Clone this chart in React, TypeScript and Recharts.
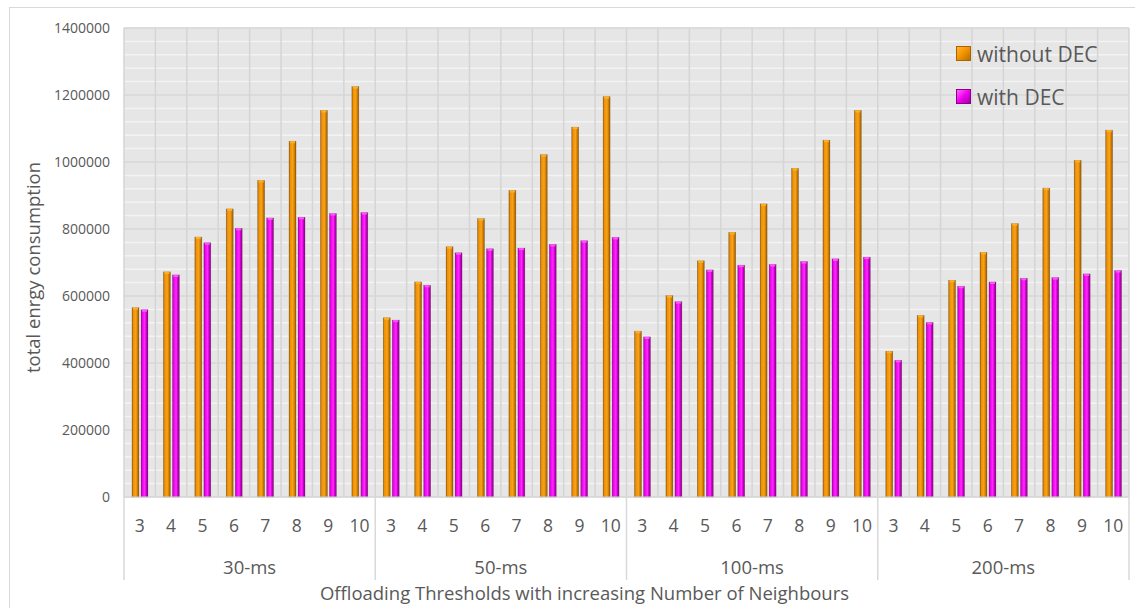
import React from 'react'
import {
  BarChart,
  Bar,
  XAxis,
  YAxis,
  CartesianGrid,
  Legend,
} from 'recharts'

const groups = ['30-ms', '50-ms', '100-ms', '200-ms']
const neighbours = [3, 4, 5, 6, 7, 8, 9, 10]

// total energy, one value per (threshold, neighbours) pair
const withoutDEC = [
  565000, 672000, 776000, 860000, 945000, 1062000, 1154000, 1225000,
  535000, 642000, 747000, 831000, 915000, 1022000, 1104000, 1195000,
  495000, 601000, 705000, 790000, 875000, 981000, 1065000, 1154000,
  435000, 542000, 647000, 730000, 816000, 922000, 1005000, 1095000,
]
const withDEC = [
  559000, 663000, 759000, 802000, 833000, 835000, 846000, 849000,
  528000, 632000, 729000, 741000, 743000, 754000, 765000, 775000,
  478000, 583000, 678000, 692000, 694000, 703000, 711000, 716000,
  408000, 521000, 629000, 642000, 653000, 655000, 666000, 676000,
]

const yTicks = [0, 200000, 400000, 600000, 800000, 1000000, 1200000, 1400000]
const minorTicks = Array.from({ length: 35 }, (_, i) => (i + 1) * 40000)

const data = groups.flatMap((group, gi) =>
  neighbours.map((n, ni) => ({
    key: `${group}-${n}`,
    n,
    group,
    without: withoutDEC[gi * 8 + ni],
    with: withDEC[gi * 8 + ni],
  }))
)

const FONT = '"Open Sans", "Noto Sans", sans-serif'
const TEXT = '#595959'

const NeighbourTick = (props: any) => {
  const { x, y, index, payload } = props
  const band = (payload?.offset ?? 15.7) * 2
  const row = data[index]
  const first = index % neighbours.length === 0
  const last = index === data.length - 1
  return (
    <g>
      <text x={x} y={y + 35} textAnchor="middle" fontSize={17.5} fill={TEXT} fontFamily={FONT}>
        {row ? row.n : ''}
      </text>
      {first && (
        <>
          <line x1={x - band / 2} x2={x - band / 2} y1={y} y2={y + 83} stroke="#d9d9d9" strokeWidth={1.5} />
          <text
            x={x - band / 2 + band * 4}
            y={y + 77}
            textAnchor="middle"
            fontSize={18.5}
            fill={TEXT}
            fontFamily={FONT}
          >
            {row.group}
          </text>
        </>
      )}
      {last && (
        <line x1={x + band / 2} x2={x + band / 2} y1={y} y2={y + 83} stroke="#d9d9d9" strokeWidth={1.5} />
      )}
    </g>
  )
}

const CylinderBar = (props: any) => {
  const { x, y, width, height, fill, cap } = props
  if (!height || height <= 0) return null
  return (
    <g>
      <rect x={x} y={y} width={width} height={height} fill={fill} stroke="rgba(80,60,40,0.35)" strokeWidth={0.6} />
      <rect x={x + 1} y={y} width={width - 2} height={2} fill={cap} />
    </g>
  )
}

const legendItems = [
  { label: 'without DEC', bg: 'linear-gradient(135deg, #ffb732 0%, #f39200 50%, #b86e00 100%)', border: '#a86400' },
  { label: 'with DEC', bg: 'linear-gradient(135deg, #ff66ff 0%, #ee00ee 50%, #a000a0 100%)', border: '#8a008a' },
]

const renderLegend = () => (
  <div style={{ fontFamily: FONT }}>
    {legendItems.map((it) => (
      <div key={it.label} style={{ display: 'flex', alignItems: 'center', height: 43 }}>
        <span
          style={{
            display: 'inline-block',
            width: 13,
            height: 13,
            background: it.bg,
            border: `1px solid ${it.border}`,
            marginRight: 6,
          }}
        />
        <span style={{ fontSize: 21, color: TEXT }}>{it.label}</span>
      </div>
    ))}
  </div>
)

const YTitle = (props: any) => {
  const { viewBox } = props
  const cx = 32
  const cy = viewBox.y + viewBox.height / 2 + 5
  return (
    <text
      x={cx}
      y={cy}
      transform={`rotate(-90, ${cx}, ${cy})`}
      textAnchor="middle"
      dominantBaseline="central"
      fontSize={18.5}
      fill={TEXT}
      fontFamily={FONT}
    >
      total enrgy consumption
    </text>
  )
}

const App: React.FC = () => {
  return (
    <div style={{ position: 'absolute', left: 0, top: 0, width: 1135, height: 608, background: '#fff', overflow: 'hidden' }}>
      <div
        style={{
          position: 'absolute',
          left: 9,
          top: 7,
          width: 1140,
          height: 620,
          borderLeft: '1px solid #d9d9d9',
          borderTop: '1px solid #d9d9d9',
        }}
      />
      <BarChart
        width={1135}
        height={608}
        data={data}
        margin={{ top: 28, right: 6, left: 0, bottom: 0 }}
        barSize={7}
        barGap={2}
        style={{ position: 'absolute', left: 0, top: 0 }}
      >
        <defs>
          <linearGradient id="orangeBar" x1="0" y1="0" x2="1" y2="0">
            <stop offset="0%" stopColor="#9c5a00" />
            <stop offset="18%" stopColor="#f09000" />
            <stop offset="55%" stopColor="#f7a21c" />
            <stop offset="75%" stopColor="#d88200" />
            <stop offset="100%" stopColor="#955600" />
          </linearGradient>
          <linearGradient id="magentaBar" x1="0" y1="0" x2="1" y2="0">
            <stop offset="0%" stopColor="#990099" />
            <stop offset="18%" stopColor="#ee00ee" />
            <stop offset="55%" stopColor="#ff2aff" />
            <stop offset="75%" stopColor="#cc00cc" />
            <stop offset="100%" stopColor="#850085" />
          </linearGradient>
        </defs>
        <CartesianGrid
          fill="#e6e6e6"
          fillOpacity={1}
          stroke="#f3f3f3"
          strokeWidth={1.5}
          horizontalValues={minorTicks}
          vertical={false}
        />
        <CartesianGrid
          stroke="#d5d5d5"
          strokeWidth={1.5}
          horizontalValues={yTicks}
          verticalCoordinatesGenerator={({ offset }: any) =>
            Array.from({ length: data.length + 1 }, (_, i) => offset.left + (i * offset.width) / data.length)
          }
        />
        <XAxis
          dataKey="key"
          interval={0}
          tickLine={false}
          tickSize={0}
          tickMargin={0}
          height={111}
          axisLine={{ stroke: '#d9d9d9' }}
          tick={<NeighbourTick />}
          label={{
            value: 'Offloading Thresholds with increasing Number of Neighbours',
            position: 'insideBottom',
            dx: -42,
            offset: 8,
            fontSize: 18.5,
            fill: TEXT,
            fontFamily: FONT,
          }}
        />
        <YAxis
          width={124}
          domain={[0, 1400000]}
          ticks={yTicks}
          interval={0}
          axisLine={false}
          tickLine={false}
          tickMargin={8}
          tick={{ fontSize: 14, fill: TEXT, fontFamily: FONT }}
          label={<YTitle />}
        />
        <Legend
          content={renderLegend}
          layout="vertical"
          align="center"
          verticalAlign="middle"
          wrapperStyle={{ left: 956, top: 32, width: 178 }}
        />
        <Bar
          dataKey="without"
          name="without DEC"
          fill="url(#orangeBar)"
          shape={<CylinderBar cap="#ffb020" />}
          isAnimationActive={false}
        />
        <Bar
          dataKey="with"
          name="with DEC"
          fill="url(#magentaBar)"
          shape={<CylinderBar cap="#ff55ff" />}
          isAnimationActive={false}
        />
      </BarChart>
    </div>
  )
}

export default App
